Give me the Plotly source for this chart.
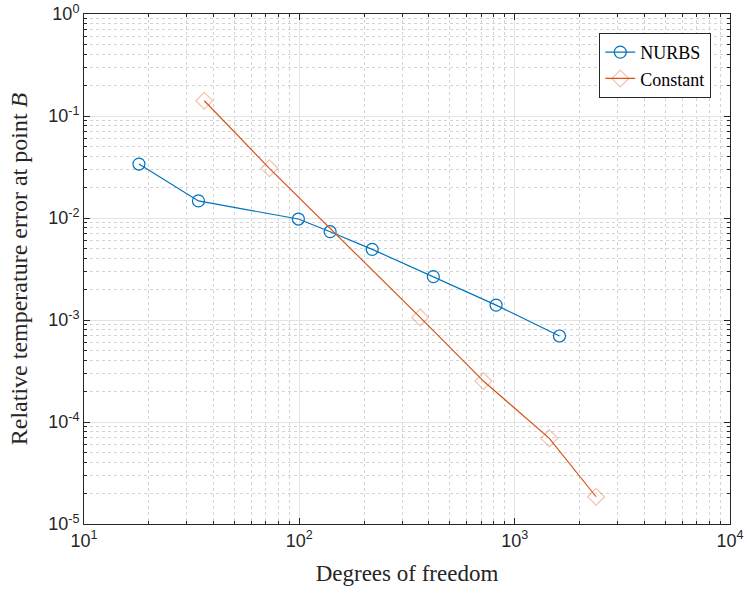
import plotly.graph_objects as go

nurbs_dof = [18, 34, 99, 139, 218, 419, 820, 1615]
nurbs_err = [0.0338, 0.0147, 0.00977, 0.00734, 0.00493, 0.00266, 0.00140, 0.000697]

const_dof = [36.2, 72.6, 364, 716, 1449, 2388]
const_err = [0.141, 0.0307, 0.00106, 0.000252, 6.92e-5, 1.85e-5]

x_tickvals = [10, 100, 1000, 10000]
x_ticktext = ["10<sup>1</sup>", "10<sup>2</sup>", "10<sup>3</sup>", "10<sup>4</sup>"]
y_tickvals = [1e-5, 1e-4, 1e-3, 1e-2, 1e-1, 1]
y_ticktext = ["10<sup>-5</sup>", "10<sup>-4</sup>", "10<sup>-3</sup>", "10<sup>-2</sup>",
              "10<sup>-1</sup>", "10<sup>0</sup>"]

x_minor = [m * 10 ** e for e in (1, 2, 3) for m in range(2, 10)]
y_minor = [m * 10.0 ** e for e in (-5, -4, -3, -2, -1) for m in range(2, 10)]

fig = go.Figure()
fig.add_trace(go.Scatter(
    x=nurbs_dof, y=nurbs_err, mode="lines+markers", name="NURBS",
    line=dict(color="#0072BD", width=1.2),
    marker=dict(symbol="circle-open", size=12, color="#0072BD", line=dict(width=1.2, color="#0072BD")),
))
fig.add_trace(go.Scatter(
    x=const_dof, y=const_err, mode="lines+markers", name="Constant",
    line=dict(color="#D95319", width=1.2),
    marker=dict(symbol="diamond-open", size=13, color="rgba(217,83,25,0.35)",
                line=dict(width=1.2, color="rgba(217,83,25,0.35)")),
))

def axis_common(minor_vals):
    return dict(
        type="log", showline=True, linecolor="#262626", linewidth=1, mirror="allticks",
        ticks="inside", ticklen=6, tickcolor="#262626",
        showgrid=True, gridcolor="#E3E3E3", gridwidth=1,
        tickfont=dict(family="Liberation Sans, Arial", size=18, color="#262626"),
        zeroline=False, automargin=False, ticklabeloverflow="allow",
        minor=dict(tickvals=minor_vals, ticks="inside", ticklen=3, tickcolor="#262626",
                   showgrid=True, gridcolor="#D4D4D4", griddash="dot", gridwidth=1),
    )

fig.update_xaxes(
    **axis_common(x_minor), range=[1, 4], tickvals=x_tickvals, ticktext=x_ticktext,
    title=dict(text="Degrees of freedom",
               font=dict(family="Liberation Serif, DejaVu Serif", size=23, color="#262626")),
)
fig.update_yaxes(
    **axis_common(y_minor), range=[-5, 0], tickvals=y_tickvals, ticktext=y_ticktext,
    title=dict(text="Relative temperature error at point <i>B</i>", standoff=13,
               font=dict(family="Liberation Serif, DejaVu Serif", size=24, color="#262626")),
)

fig.update_layout(
    width=748, height=596,
    margin=dict(l=84, r=18, t=14, b=72),
    paper_bgcolor="white", plot_bgcolor="white",
    legend=dict(
        x=0.971, y=0.963, xanchor="right", yanchor="top",
        bgcolor="white", bordercolor="#262626", borderwidth=1,
        font=dict(family="Liberation Serif, DejaVu Serif", size=18, color="black"),
        tracegroupgap=0, itemwidth=30,
    ),
    showlegend=True,
)

fig.write_html("out.html", config={"displayModeBar": False},
               post_script="document.body.style.margin='0';document.body.style.padding='0';")
